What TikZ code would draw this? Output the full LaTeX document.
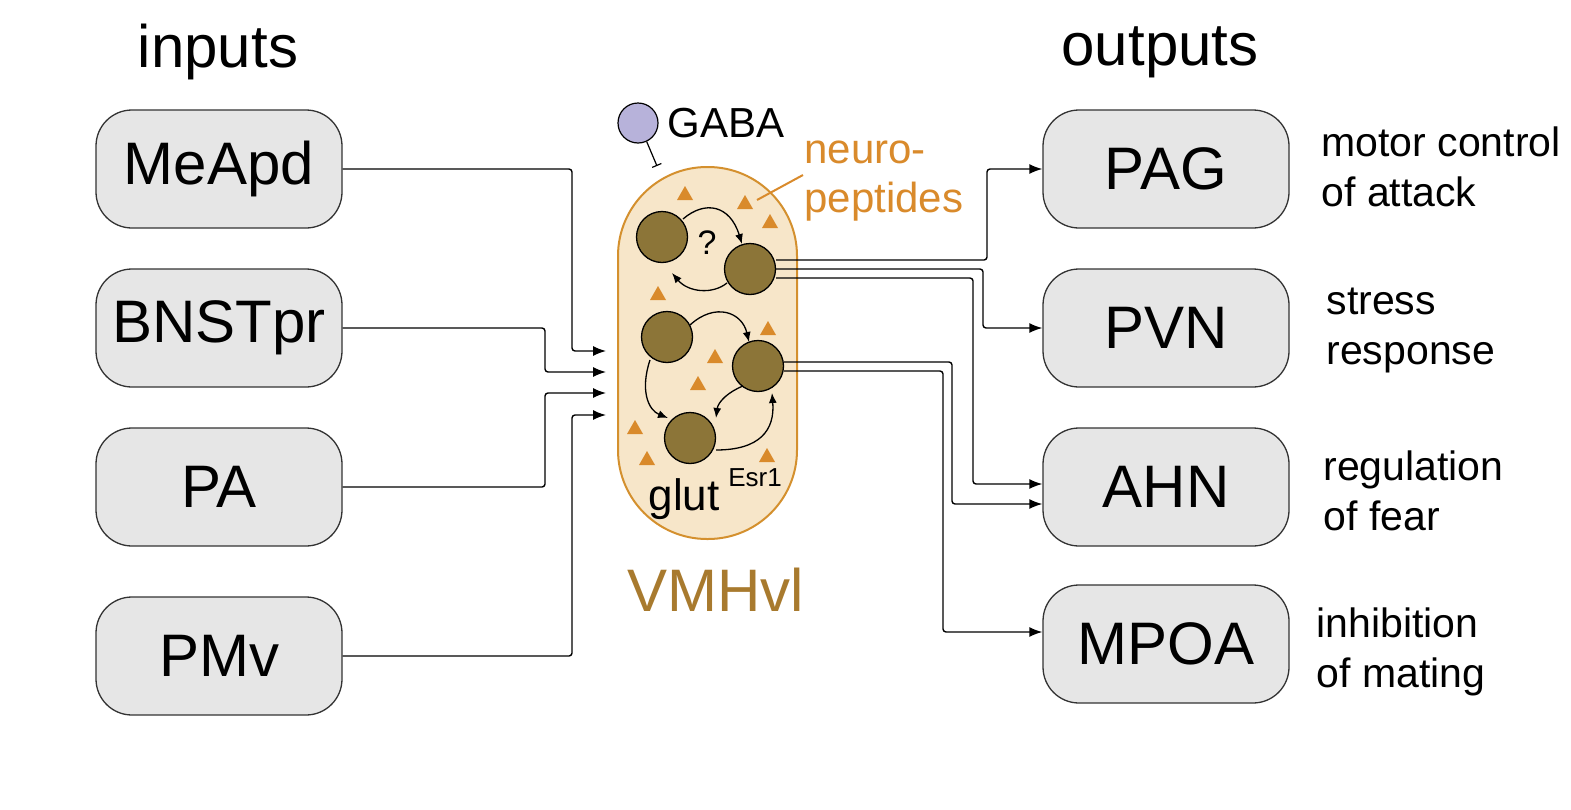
\documentclass[tikz,border=0pt]{standalone}
\usepackage{fontspec}
\setmainfont{Liberation Sans}
\usetikzlibrary{arrows.meta}
\definecolor{boxfill}{HTML}{E6E6E6}
\definecolor{caps}{HTML}{F7E6C9}
\definecolor{capsb}{HTML}{D4902E}
\definecolor{cell}{HTML}{8C7538}
\definecolor{tri}{HTML}{D98A2B}
\definecolor{vmh}{HTML}{A87A2E}
\definecolor{gaba}{HTML}{B7B2DA}
\begin{document}
\begin{tikzpicture}[x=1pt,y=-1pt,
  box/.style={draw=black!80,line width=1.3pt,fill=boxfill,rounded corners=36pt,minimum width=246pt,minimum height=118pt,font=\fontsize{60}{66}\selectfont},
  cellc/.style={circle,draw=black,line width=1.3pt,fill=cell,minimum size=51pt,inner sep=0pt},
  conn/.style={line width=1.4pt,rounded corners=3pt},
  arr/.style={conn,-{Latex[length=13pt,width=10pt]}},
  small/.style={-{Latex[length=10pt,width=8pt]},line width=1.3pt},
  lab/.style={font=\fontsize{41}{50}\selectfont,align=left,anchor=west}]
\useasboundingbox (0,0) rectangle (1571,809);
\node[font=\fontsize{60}{66}\selectfont] (tin) at (218,52) {inputs};
\node[font=\fontsize{60}{66}\selectfont] (tout) at (1160,52) {outputs};
\node[box] (meapd) at (219,169) {MeApd};
\node[box] (bnst) at (219,328) {BNSTpr};
\node[box] (pa) at (219,487) {PA};
\node[box] (pmv) at (219,656) {PMv};
\node[box] (pag) at (1166,169) {PAG};
\node[box] (pvn) at (1166,328) {PVN};
\node[box] (ahn) at (1166,487) {AHN};
\node[box] (mpoa) at (1166,644) {MPOA};
% capsule
\draw[draw=capsb,fill=caps,line width=2pt,rounded corners=89pt] (618,167) rectangle (797,539);
% triangles
\foreach \x/\y in {685/193,745/202,770/221,658/293,768/328,715/356,698/383,635/427,647/458,767/455}
  \fill[tri] (\x-8,\y+7) -- (\x+8,\y+7) -- (\x,\y-7) -- cycle;
% cells
\node[cellc] (c1) at (662,237) {};
\node[cellc] (c2) at (750,269) {};
\node[cellc] (c3) at (667,337) {};
\node[cellc] (c4) at (758,366) {};
\node[cellc] (c5) at (690,438) {};
\draw[small] (683,219) .. controls (705,200) and (730,205) .. (742,244);
\draw[small] (727,283) .. controls (712,295) and (688,292) .. (672,273);
\draw[small] (690,325) .. controls (715,302) and (742,312) .. (749,342);
\draw[small] (650,360) .. controls (640,390) and (648,410) .. (668,418);
\draw[small] (743,386) .. controls (728,392) and (718,402) .. (716,418);
\draw[small] (716,450) .. controls (760,450) and (775,430) .. (772,393);
\node[font=\fontsize{34}{38}\selectfont] (q) at (707,243) {?};
\node[font=\fontsize{44}{48}\selectfont,anchor=base] (glut) at (684,510) {glut};
\node[font=\fontsize{26}{28}\selectfont,anchor=base] (esr) at (755,486) {Esr1};
\node[font=\fontsize{60}{64}\selectfont,text=vmh] (vmh) at (716,590) {VMHvl};
% GABA
\node[circle,draw=black,line width=1.2pt,fill=gaba,minimum size=40pt,inner sep=0pt] (gb) at (638,123) {};
\node[font=\fontsize{42}{46}\selectfont,anchor=west] (gt) at (664,123) {GABA};
\coordinate (gend) at (657,166);
\draw[line width=1.2pt,-{Bar[width=10pt]}] (gb.-65) -- (gend);
% neuropeptides
\node[font=\fontsize{42}{49}\selectfont,text=tri,align=left,anchor=west] (np) at (801,181) {neuro-\\peptides};
\coordinate (npt) at (757,200);
\draw[tri,line width=2pt] (803,175) -- (npt);
% inputs
\coordinate (i1) at (606,351);\coordinate (i2) at (606,372);
\coordinate (i3) at (606,393);\coordinate (i4) at (606,415);
\draw[arr] (meapd.east) -| (572,351) -- (i1);
\draw[arr] (bnst.east) -| (545,372) -- (i2);
\draw[arr] (pa.east) -| (545,393) -- (i3);
\draw[arr] (pmv.east) -| (572,415) -- (i4);
% outputs
\draw[arr] (c2.east |- 0,260) -- (987,260) |- (pag.west);
\draw[arr] (c2.east |- 0,269) -- (983,269) |- (pvn.west);
\draw[arr] (c2.east |- 0,278) -- (973,278) |- (ahn.west |- 0,484);
\draw[arr] (c4.east |- 0,362) -- (952,362) |- (ahn.west |- 0,504);
\draw[arr] (c4.east |- 0,371) -- (943,371) |- (mpoa.west |- 0,632);
% labels
\node[lab] (l1) at (1318,167) {motor control\\of attack};
\node[lab] (l2) at (1323,330) {stress\\response};
\node[lab] (l3) at (1320,491) {regulation\\of fear};
\node[lab] (l4) at (1313,652) {inhibition\\of mating};
\end{tikzpicture}
\end{document}
